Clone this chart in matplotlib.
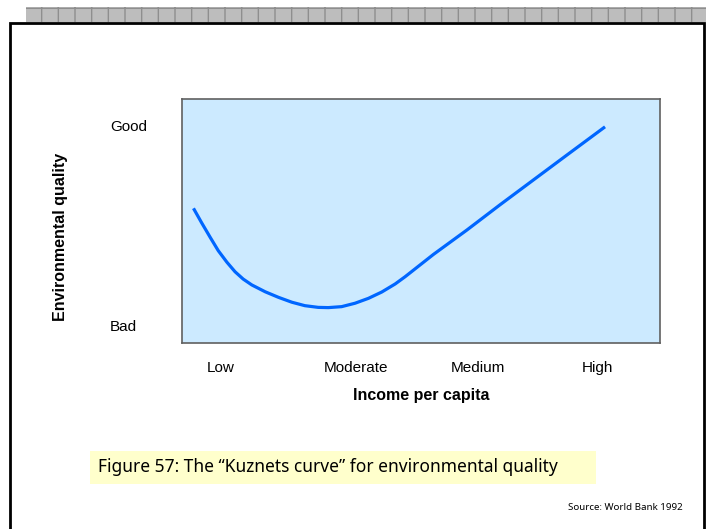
import matplotlib
matplotlib.use("Agg")
import matplotlib.pyplot as plt
from matplotlib.patches import Rectangle

# Income (0-100 scale) and environmental quality (0-100 scale)
income = [2.4, 4.1, 5.9, 7.6, 9.4, 11.1, 12.8, 14.6, 17.4, 20.2, 23.0,
          25.7, 28.5, 30.6, 33.4, 36.2, 39.0, 41.8, 44.6, 46.7, 52.6,
          59.6, 66.5, 73.5, 80.5, 88.5]
quality = [55.2, 49.3, 43.3, 37.8, 33.1, 29.2, 26.2, 23.8, 21.0, 18.7, 16.7,
           15.3, 14.6, 14.5, 14.9, 16.3, 18.3, 20.9, 24.2, 27.2, 36.3,
           46.3, 56.6, 66.8, 77.0, 88.6]

income_levels = ["Low", "Moderate", "Medium", "High"]
income_level_pos = [8.1, 36.4, 61.9, 87.0]
quality_levels = ["Good", "Bad"]
quality_level_pos = [89.3, 7.0]

W, H = 706, 529
fig = plt.figure(figsize=(W / 100, H / 100), dpi=100)
fig.patch.set_facecolor("white")


def fx(px):
    return px / W


def fy(py):
    return 1 - py / H


# page header band and frame
fig.patches.append(Rectangle((fx(26), fy(22)), fx(706) - fx(26), fy(7) - fy(22),
                             transform=fig.transFigure, facecolor="#bdbdbd",
                             edgecolor="#8e8e8e", hatch="+", lw=0, zorder=0))
fig.patches.append(Rectangle((fx(10), fy(560)), fx(704) - fx(10), fy(23) - fy(560),
                             transform=fig.transFigure, facecolor="none",
                             edgecolor="black", lw=2.0, zorder=1))

ax = fig.add_axes([fx(182), fy(343), fx(660) - fx(182), fy(99) - fy(343)])
ax.set_facecolor("#cceaff")
ax.plot(income, quality, color="#0066ff", lw=2.3, solid_capstyle="butt",
        solid_joinstyle="round")
ax.set_xlim(0, 100)
ax.set_ylim(0, 100)

for s in ax.spines.values():
    s.set_color("#606060")
    s.set_linewidth(1.2)

ax.set_xticks(income_level_pos, income_levels, fontsize=11, family="Liberation Sans")
ax.set_yticks(quality_level_pos, quality_levels, fontsize=11, family="Liberation Sans")
ax.tick_params(axis="x", length=0, pad=13)
ax.tick_params(axis="y", length=0, pad=52)
for lab in ax.get_yticklabels():
    lab.set_horizontalalignment("left")

ax.set_xlabel("Income per capita", fontsize=11.5, fontweight="bold",
              family="Liberation Sans", labelpad=9)
fig.text(fx(61), fy(237), "Environmental quality", rotation=90, fontsize=11.5,
         fontweight="bold", family="Liberation Sans", ha="center", va="center")

# caption
fig.patches.append(Rectangle((fx(90), fy(484)), fx(596) - fx(90), fy(451) - fy(484),
                             transform=fig.transFigure, facecolor="#ffffcc",
                             edgecolor="none", zorder=1))
fig.text(fx(98), fy(467.5), "Figure 57: The \u201cKuznets curve\u201d for environmental quality",
         fontsize=12.5, family="Noto Sans", ha="left", va="center", zorder=2)
fig.text(fx(683), fy(507), "Source: World Bank 1992", fontsize=7,
         family="Noto Sans", ha="right", va="center")

fig.savefig("out.png", dpi=100, facecolor="white")
